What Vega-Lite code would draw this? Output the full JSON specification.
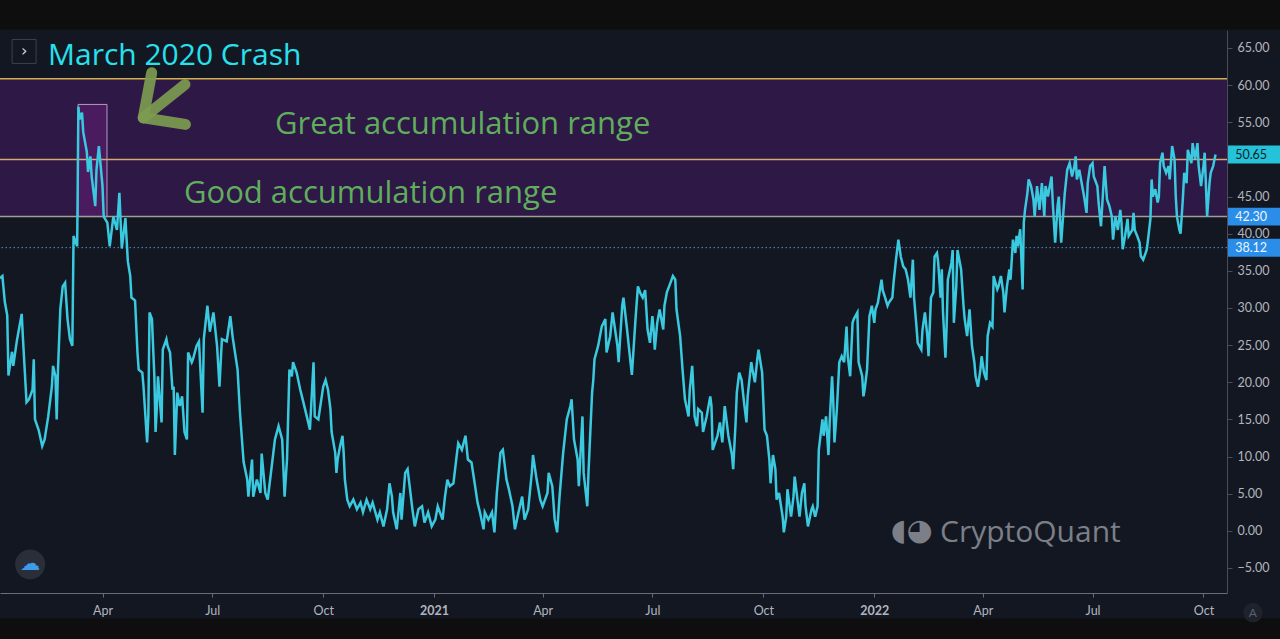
{
  "$schema": "https://vega.github.io/schema/vega-lite/v6.json",
  "width": 1227,
  "height": 563,
  "autosize": "none",
  "padding": {"left": 0, "top": 30, "right": 53, "bottom": 46},
  "background": "#131722",
  "config": {"view": {"stroke": null, "fill": "#131722"}, "font": "Lato"},
  "datasets": {
    "series": [
      {"date": "2020-01-07", "value": 34.0}, {"date": "2020-01-09", "value": 34.3}, {"date": "2020-01-11", "value": 30.8},
      {"date": "2020-01-13", "value": 29.0}, {"date": "2020-01-14", "value": 20.9}, {"date": "2020-01-17", "value": 24.1},
      {"date": "2020-01-18", "value": 22.2}, {"date": "2020-01-21", "value": 25.6}, {"date": "2020-01-22", "value": 26.5},
      {"date": "2020-01-25", "value": 29.2}, {"date": "2020-01-26", "value": 26.0}, {"date": "2020-01-29", "value": 17.3},
      {"date": "2020-01-31", "value": 17.7}, {"date": "2020-02-03", "value": 19.0}, {"date": "2020-02-04", "value": 23.1},
      {"date": "2020-02-05", "value": 15.0}, {"date": "2020-02-08", "value": 13.6}, {"date": "2020-02-11", "value": 11.4},
      {"date": "2020-02-13", "value": 12.3}, {"date": "2020-02-16", "value": 15.4}, {"date": "2020-02-19", "value": 19.4},
      {"date": "2020-02-20", "value": 22.2}, {"date": "2020-02-22", "value": 20.8}, {"date": "2020-02-23", "value": 15.0},
      {"date": "2020-02-24", "value": 21.3}, {"date": "2020-02-26", "value": 29.8}, {"date": "2020-02-28", "value": 32.9},
      {"date": "2020-03-01", "value": 33.4}, {"date": "2020-03-03", "value": 28.5}, {"date": "2020-03-05", "value": 25.8},
      {"date": "2020-03-07", "value": 24.9}, {"date": "2020-03-08", "value": 39.7}, {"date": "2020-03-11", "value": 38.3},
      {"date": "2020-03-12", "value": 57.1}, {"date": "2020-03-13", "value": 55.4}, {"date": "2020-03-15", "value": 56.3},
      {"date": "2020-03-16", "value": 53.7}, {"date": "2020-03-19", "value": 51.0}, {"date": "2020-03-20", "value": 48.3},
      {"date": "2020-03-22", "value": 50.4}, {"date": "2020-03-23", "value": 47.7}, {"date": "2020-03-26", "value": 43.7},
      {"date": "2020-03-27", "value": 48.6}, {"date": "2020-03-29", "value": 51.8}, {"date": "2020-04-01", "value": 46.4},
      {"date": "2020-04-02", "value": 42.3}, {"date": "2020-04-05", "value": 41.5}, {"date": "2020-04-07", "value": 38.3},
      {"date": "2020-04-10", "value": 42.3}, {"date": "2020-04-13", "value": 40.5}, {"date": "2020-04-15", "value": 45.5},
      {"date": "2020-04-17", "value": 38.0}, {"date": "2020-04-20", "value": 42.1}, {"date": "2020-04-22", "value": 36.3},
      {"date": "2020-04-24", "value": 34.3}, {"date": "2020-04-25", "value": 31.4}, {"date": "2020-04-28", "value": 31.0},
      {"date": "2020-04-30", "value": 24.0}, {"date": "2020-05-01", "value": 21.7}, {"date": "2020-05-04", "value": 21.3},
      {"date": "2020-05-05", "value": 19.4}, {"date": "2020-05-08", "value": 11.9}, {"date": "2020-05-09", "value": 15.4},
      {"date": "2020-05-10", "value": 29.4}, {"date": "2020-05-12", "value": 28.5}, {"date": "2020-05-14", "value": 20.8},
      {"date": "2020-05-15", "value": 13.3}, {"date": "2020-05-16", "value": 16.4}, {"date": "2020-05-17", "value": 20.8},
      {"date": "2020-05-20", "value": 14.6}, {"date": "2020-05-21", "value": 24.4}, {"date": "2020-05-24", "value": 25.8},
      {"date": "2020-05-25", "value": 24.9}, {"date": "2020-05-27", "value": 24.0}, {"date": "2020-05-29", "value": 19.0},
      {"date": "2020-05-30", "value": 19.4}, {"date": "2020-05-31", "value": 10.2}, {"date": "2020-06-02", "value": 18.6},
      {"date": "2020-06-04", "value": 16.8}, {"date": "2020-06-06", "value": 18.1}, {"date": "2020-06-08", "value": 13.3},
      {"date": "2020-06-10", "value": 12.3}, {"date": "2020-06-11", "value": 24.0}, {"date": "2020-06-14", "value": 22.7},
      {"date": "2020-06-15", "value": 23.1}, {"date": "2020-06-18", "value": 24.9}, {"date": "2020-06-20", "value": 25.5},
      {"date": "2020-06-23", "value": 15.9}, {"date": "2020-06-24", "value": 25.8}, {"date": "2020-06-27", "value": 30.3},
      {"date": "2020-06-29", "value": 26.8}, {"date": "2020-07-02", "value": 29.4}, {"date": "2020-07-05", "value": 24.9},
      {"date": "2020-07-07", "value": 19.4}, {"date": "2020-07-09", "value": 25.8}, {"date": "2020-07-13", "value": 25.5},
      {"date": "2020-07-16", "value": 28.9}, {"date": "2020-07-18", "value": 26.0}, {"date": "2020-07-22", "value": 21.7},
      {"date": "2020-07-24", "value": 15.9}, {"date": "2020-07-27", "value": 9.3}, {"date": "2020-07-30", "value": 6.9},
      {"date": "2020-07-31", "value": 4.6}, {"date": "2020-08-03", "value": 9.6}, {"date": "2020-08-04", "value": 4.6},
      {"date": "2020-08-07", "value": 6.9}, {"date": "2020-08-10", "value": 5.1}, {"date": "2020-08-11", "value": 10.4},
      {"date": "2020-08-14", "value": 5.1}, {"date": "2020-08-16", "value": 4.2}, {"date": "2020-08-20", "value": 9.6},
      {"date": "2020-08-22", "value": 12.3}, {"date": "2020-08-25", "value": 14.1}, {"date": "2020-08-28", "value": 12.3},
      {"date": "2020-08-30", "value": 4.6}, {"date": "2020-09-01", "value": 9.6}, {"date": "2020-09-03", "value": 21.7},
      {"date": "2020-09-05", "value": 20.8}, {"date": "2020-09-06", "value": 22.7}, {"date": "2020-09-09", "value": 21.3},
      {"date": "2020-09-12", "value": 19.0}, {"date": "2020-09-14", "value": 17.7}, {"date": "2020-09-18", "value": 15.0},
      {"date": "2020-09-20", "value": 13.6}, {"date": "2020-09-23", "value": 22.7}, {"date": "2020-09-24", "value": 15.4},
      {"date": "2020-09-27", "value": 15.0}, {"date": "2020-10-01", "value": 19.4}, {"date": "2020-10-03", "value": 20.3},
      {"date": "2020-10-05", "value": 19.0}, {"date": "2020-10-07", "value": 16.4}, {"date": "2020-10-08", "value": 13.3},
      {"date": "2020-10-11", "value": 10.5}, {"date": "2020-10-12", "value": 7.8}, {"date": "2020-10-13", "value": 9.6},
      {"date": "2020-10-15", "value": 11.4}, {"date": "2020-10-17", "value": 12.8}, {"date": "2020-10-18", "value": 10.5},
      {"date": "2020-10-19", "value": 6.9}, {"date": "2020-10-21", "value": 4.2}, {"date": "2020-10-23", "value": 3.3},
      {"date": "2020-10-26", "value": 4.2}, {"date": "2020-10-29", "value": 2.9}, {"date": "2020-11-01", "value": 3.8},
      {"date": "2020-11-03", "value": 2.5}, {"date": "2020-11-06", "value": 4.2}, {"date": "2020-11-09", "value": 2.9},
      {"date": "2020-11-11", "value": 3.8}, {"date": "2020-11-15", "value": 1.5}, {"date": "2020-11-17", "value": 2.5},
      {"date": "2020-11-20", "value": 0.6}, {"date": "2020-11-23", "value": 2.9}, {"date": "2020-11-25", "value": 6.4},
      {"date": "2020-11-27", "value": 4.6}, {"date": "2020-11-28", "value": 2.5}, {"date": "2020-12-01", "value": 0.2},
      {"date": "2020-12-04", "value": 5.1}, {"date": "2020-12-05", "value": 1.5}, {"date": "2020-12-08", "value": 7.8},
      {"date": "2020-12-10", "value": 8.3}, {"date": "2020-12-14", "value": 2.9}, {"date": "2020-12-16", "value": 0.6},
      {"date": "2020-12-19", "value": 2.9}, {"date": "2020-12-22", "value": 3.3}, {"date": "2020-12-24", "value": 1.1},
      {"date": "2020-12-27", "value": 2.5}, {"date": "2020-12-30", "value": 0.6}, {"date": "2021-01-02", "value": 1.5},
      {"date": "2021-01-04", "value": 3.3}, {"date": "2021-01-08", "value": 1.5}, {"date": "2021-01-10", "value": 4.6},
      {"date": "2021-01-12", "value": 6.9}, {"date": "2021-01-14", "value": 6.0}, {"date": "2021-01-17", "value": 6.4},
      {"date": "2021-01-20", "value": 10.5}, {"date": "2021-01-21", "value": 11.8}, {"date": "2021-01-24", "value": 10.9},
      {"date": "2021-01-27", "value": 12.8}, {"date": "2021-01-29", "value": 9.6}, {"date": "2021-02-01", "value": 9.2},
      {"date": "2021-02-04", "value": 6.0}, {"date": "2021-02-06", "value": 3.8}, {"date": "2021-02-08", "value": 2.5},
      {"date": "2021-02-11", "value": 0.2}, {"date": "2021-02-12", "value": 2.5}, {"date": "2021-02-15", "value": 1.5},
      {"date": "2021-02-18", "value": 2.5}, {"date": "2021-02-20", "value": -0.2}, {"date": "2021-02-22", "value": 5.1},
      {"date": "2021-02-25", "value": 10.5}, {"date": "2021-02-27", "value": 10.9}, {"date": "2021-03-02", "value": 6.9},
      {"date": "2021-03-04", "value": 5.6}, {"date": "2021-03-07", "value": 3.3}, {"date": "2021-03-09", "value": 0.2},
      {"date": "2021-03-12", "value": 2.5}, {"date": "2021-03-15", "value": 4.6}, {"date": "2021-03-17", "value": 1.5},
      {"date": "2021-03-20", "value": 2.9}, {"date": "2021-03-23", "value": 7.8}, {"date": "2021-03-24", "value": 10.2},
      {"date": "2021-03-27", "value": 6.9}, {"date": "2021-03-30", "value": 4.2}, {"date": "2021-04-01", "value": 3.3},
      {"date": "2021-04-05", "value": 5.1}, {"date": "2021-04-06", "value": 7.8}, {"date": "2021-04-09", "value": 6.0},
      {"date": "2021-04-11", "value": 1.5}, {"date": "2021-04-13", "value": -0.2}, {"date": "2021-04-15", "value": 4.6},
      {"date": "2021-04-18", "value": 10.5}, {"date": "2021-04-21", "value": 15.0}, {"date": "2021-04-24", "value": 16.8},
      {"date": "2021-04-25", "value": 17.7}, {"date": "2021-04-27", "value": 12.3}, {"date": "2021-04-30", "value": 9.6},
      {"date": "2021-05-01", "value": 6.0}, {"date": "2021-05-04", "value": 15.4}, {"date": "2021-05-05", "value": 7.8},
      {"date": "2021-05-08", "value": 3.3}, {"date": "2021-05-09", "value": 7.8}, {"date": "2021-05-10", "value": 11.4},
      {"date": "2021-05-12", "value": 18.6}, {"date": "2021-05-13", "value": 20.3}, {"date": "2021-05-14", "value": 23.1},
      {"date": "2021-05-17", "value": 24.9}, {"date": "2021-05-20", "value": 27.5}, {"date": "2021-05-23", "value": 28.5},
      {"date": "2021-05-24", "value": 24.0}, {"date": "2021-05-27", "value": 26.2}, {"date": "2021-05-29", "value": 29.4},
      {"date": "2021-06-02", "value": 24.9}, {"date": "2021-06-03", "value": 22.7}, {"date": "2021-06-06", "value": 30.3},
      {"date": "2021-06-07", "value": 31.4}, {"date": "2021-06-10", "value": 27.1}, {"date": "2021-06-12", "value": 24.0},
      {"date": "2021-06-14", "value": 21.0}, {"date": "2021-06-17", "value": 28.5}, {"date": "2021-06-19", "value": 32.9},
      {"date": "2021-06-21", "value": 32.0}, {"date": "2021-06-23", "value": 31.4}, {"date": "2021-06-25", "value": 32.4},
      {"date": "2021-06-27", "value": 27.1}, {"date": "2021-06-29", "value": 25.3}, {"date": "2021-07-01", "value": 28.9},
      {"date": "2021-07-02", "value": 27.1}, {"date": "2021-07-03", "value": 24.4}, {"date": "2021-07-05", "value": 28.0},
      {"date": "2021-07-07", "value": 29.8}, {"date": "2021-07-09", "value": 28.0}, {"date": "2021-07-10", "value": 27.1},
      {"date": "2021-07-11", "value": 30.3}, {"date": "2021-07-13", "value": 32.1}, {"date": "2021-07-16", "value": 33.4},
      {"date": "2021-07-18", "value": 34.3}, {"date": "2021-07-20", "value": 33.8}, {"date": "2021-07-21", "value": 29.8},
      {"date": "2021-07-24", "value": 26.2}, {"date": "2021-07-26", "value": 21.7}, {"date": "2021-07-28", "value": 17.7},
      {"date": "2021-07-31", "value": 15.4}, {"date": "2021-08-01", "value": 19.0}, {"date": "2021-08-03", "value": 22.2},
      {"date": "2021-08-04", "value": 19.0}, {"date": "2021-08-05", "value": 15.4}, {"date": "2021-08-07", "value": 14.1},
      {"date": "2021-08-08", "value": 16.4}, {"date": "2021-08-11", "value": 15.9}, {"date": "2021-08-12", "value": 13.3},
      {"date": "2021-08-15", "value": 15.4}, {"date": "2021-08-18", "value": 18.1}, {"date": "2021-08-19", "value": 16.8},
      {"date": "2021-08-20", "value": 10.9}, {"date": "2021-08-24", "value": 12.8}, {"date": "2021-08-26", "value": 14.6},
      {"date": "2021-08-28", "value": 11.9}, {"date": "2021-08-30", "value": 16.8}, {"date": "2021-09-02", "value": 12.8},
      {"date": "2021-09-05", "value": 10.2}, {"date": "2021-09-06", "value": 8.3}, {"date": "2021-09-08", "value": 14.6},
      {"date": "2021-09-09", "value": 18.6}, {"date": "2021-09-11", "value": 21.3}, {"date": "2021-09-13", "value": 20.3},
      {"date": "2021-09-15", "value": 17.3}, {"date": "2021-09-17", "value": 14.6}, {"date": "2021-09-18", "value": 18.1},
      {"date": "2021-09-21", "value": 22.7}, {"date": "2021-09-22", "value": 21.7}, {"date": "2021-09-24", "value": 20.0},
      {"date": "2021-09-26", "value": 23.1}, {"date": "2021-09-27", "value": 24.4}, {"date": "2021-09-30", "value": 21.3},
      {"date": "2021-10-02", "value": 13.6}, {"date": "2021-10-04", "value": 12.8}, {"date": "2021-10-06", "value": 9.6},
      {"date": "2021-10-07", "value": 6.4}, {"date": "2021-10-09", "value": 10.2}, {"date": "2021-10-11", "value": 8.3},
      {"date": "2021-10-12", "value": 4.2}, {"date": "2021-10-14", "value": 5.1}, {"date": "2021-10-17", "value": 1.9},
      {"date": "2021-10-18", "value": -0.2}, {"date": "2021-10-20", "value": 1.9}, {"date": "2021-10-21", "value": 5.6},
      {"date": "2021-10-24", "value": 1.9}, {"date": "2021-10-26", "value": 4.6}, {"date": "2021-10-27", "value": 7.3},
      {"date": "2021-10-29", "value": 4.6}, {"date": "2021-10-31", "value": 1.9}, {"date": "2021-11-02", "value": 5.1},
      {"date": "2021-11-04", "value": 6.4}, {"date": "2021-11-05", "value": 3.3}, {"date": "2021-11-07", "value": 0.6},
      {"date": "2021-11-10", "value": 2.9}, {"date": "2021-11-11", "value": 3.3}, {"date": "2021-11-13", "value": 1.9},
      {"date": "2021-11-15", "value": 3.3}, {"date": "2021-11-16", "value": 10.9}, {"date": "2021-11-19", "value": 15.0},
      {"date": "2021-11-20", "value": 12.8}, {"date": "2021-11-22", "value": 15.4}, {"date": "2021-11-24", "value": 10.2},
      {"date": "2021-11-25", "value": 14.6}, {"date": "2021-11-27", "value": 20.8}, {"date": "2021-11-28", "value": 17.3},
      {"date": "2021-11-29", "value": 11.9}, {"date": "2021-12-01", "value": 16.4}, {"date": "2021-12-03", "value": 22.7},
      {"date": "2021-12-05", "value": 23.5}, {"date": "2021-12-07", "value": 22.7}, {"date": "2021-12-09", "value": 27.5},
      {"date": "2021-12-10", "value": 23.5}, {"date": "2021-12-12", "value": 20.8}, {"date": "2021-12-14", "value": 28.0},
      {"date": "2021-12-15", "value": 28.5}, {"date": "2021-12-18", "value": 29.4}, {"date": "2021-12-19", "value": 22.7},
      {"date": "2021-12-22", "value": 20.8}, {"date": "2021-12-23", "value": 18.1}, {"date": "2021-12-24", "value": 19.0},
      {"date": "2021-12-26", "value": 21.7}, {"date": "2021-12-28", "value": 28.9}, {"date": "2021-12-30", "value": 30.3},
      {"date": "2022-01-01", "value": 28.0}, {"date": "2022-01-02", "value": 29.8}, {"date": "2022-01-04", "value": 30.7},
      {"date": "2022-01-07", "value": 33.8}, {"date": "2022-01-08", "value": 32.4}, {"date": "2022-01-10", "value": 31.4},
      {"date": "2022-01-12", "value": 30.3}, {"date": "2022-01-13", "value": 30.7}, {"date": "2022-01-16", "value": 31.4},
      {"date": "2022-01-17", "value": 33.4}, {"date": "2022-01-19", "value": 36.5}, {"date": "2022-01-21", "value": 39.2},
      {"date": "2022-01-23", "value": 36.9}, {"date": "2022-01-25", "value": 35.6}, {"date": "2022-01-27", "value": 35.2},
      {"date": "2022-01-29", "value": 33.8}, {"date": "2022-01-31", "value": 31.4}, {"date": "2022-02-02", "value": 36.5},
      {"date": "2022-02-03", "value": 31.4}, {"date": "2022-02-05", "value": 27.5}, {"date": "2022-02-06", "value": 25.3},
      {"date": "2022-02-09", "value": 24.4}, {"date": "2022-02-10", "value": 27.1}, {"date": "2022-02-12", "value": 29.4},
      {"date": "2022-02-14", "value": 26.2}, {"date": "2022-02-15", "value": 23.5}, {"date": "2022-02-17", "value": 31.4},
      {"date": "2022-02-19", "value": 32.1}, {"date": "2022-02-20", "value": 36.9}, {"date": "2022-02-22", "value": 37.4},
      {"date": "2022-02-23", "value": 36.1}, {"date": "2022-02-25", "value": 31.4}, {"date": "2022-02-26", "value": 35.2},
      {"date": "2022-02-27", "value": 29.4}, {"date": "2022-03-01", "value": 23.3}, {"date": "2022-03-02", "value": 27.5},
      {"date": "2022-03-03", "value": 33.8}, {"date": "2022-03-06", "value": 36.1}, {"date": "2022-03-07", "value": 37.8},
      {"date": "2022-03-08", "value": 28.0}, {"date": "2022-03-10", "value": 32.9}, {"date": "2022-03-11", "value": 37.8},
      {"date": "2022-03-14", "value": 35.2}, {"date": "2022-03-16", "value": 30.3}, {"date": "2022-03-17", "value": 28.5},
      {"date": "2022-03-19", "value": 26.2}, {"date": "2022-03-21", "value": 29.8}, {"date": "2022-03-23", "value": 24.9},
      {"date": "2022-03-25", "value": 22.7}, {"date": "2022-03-26", "value": 20.8}, {"date": "2022-03-28", "value": 19.4},
      {"date": "2022-03-30", "value": 21.7}, {"date": "2022-03-31", "value": 23.5}, {"date": "2022-04-02", "value": 21.3},
      {"date": "2022-04-04", "value": 20.3}, {"date": "2022-04-05", "value": 26.2}, {"date": "2022-04-07", "value": 28.0},
      {"date": "2022-04-09", "value": 27.5}, {"date": "2022-04-10", "value": 34.3}, {"date": "2022-04-13", "value": 32.5},
      {"date": "2022-04-14", "value": 32.9}, {"date": "2022-04-16", "value": 34.3}, {"date": "2022-04-18", "value": 32.1},
      {"date": "2022-04-19", "value": 29.4}, {"date": "2022-04-21", "value": 32.9}, {"date": "2022-04-23", "value": 35.2},
      {"date": "2022-04-24", "value": 33.8}, {"date": "2022-04-26", "value": 39.2}, {"date": "2022-04-28", "value": 37.4},
      {"date": "2022-04-29", "value": 39.7}, {"date": "2022-04-30", "value": 38.3}, {"date": "2022-05-02", "value": 40.6},
      {"date": "2022-05-04", "value": 32.5}, {"date": "2022-05-05", "value": 41.5}, {"date": "2022-05-06", "value": 43.2},
      {"date": "2022-05-08", "value": 45.5}, {"date": "2022-05-09", "value": 47.3}, {"date": "2022-05-11", "value": 46.4},
      {"date": "2022-05-13", "value": 44.6}, {"date": "2022-05-14", "value": 42.3}, {"date": "2022-05-16", "value": 46.4},
      {"date": "2022-05-18", "value": 43.2}, {"date": "2022-05-20", "value": 46.8}, {"date": "2022-05-22", "value": 42.3},
      {"date": "2022-05-23", "value": 46.4}, {"date": "2022-05-25", "value": 45.0}, {"date": "2022-05-28", "value": 47.7},
      {"date": "2022-05-29", "value": 44.2}, {"date": "2022-05-31", "value": 38.8}, {"date": "2022-06-02", "value": 43.7},
      {"date": "2022-06-03", "value": 45.0}, {"date": "2022-06-05", "value": 38.8}, {"date": "2022-06-07", "value": 43.3},
      {"date": "2022-06-08", "value": 45.5}, {"date": "2022-06-10", "value": 48.6}, {"date": "2022-06-12", "value": 49.5},
      {"date": "2022-06-14", "value": 47.7}, {"date": "2022-06-16", "value": 49.1}, {"date": "2022-06-17", "value": 50.4},
      {"date": "2022-06-18", "value": 47.3}, {"date": "2022-06-20", "value": 48.6}, {"date": "2022-06-22", "value": 46.8},
      {"date": "2022-06-24", "value": 45.0}, {"date": "2022-06-26", "value": 42.8}, {"date": "2022-06-27", "value": 46.8},
      {"date": "2022-06-29", "value": 49.1}, {"date": "2022-07-01", "value": 49.5}, {"date": "2022-07-02", "value": 47.7},
      {"date": "2022-07-05", "value": 46.4}, {"date": "2022-07-06", "value": 44.2}, {"date": "2022-07-08", "value": 41.0},
      {"date": "2022-07-10", "value": 46.4}, {"date": "2022-07-11", "value": 49.1}, {"date": "2022-07-13", "value": 44.6},
      {"date": "2022-07-15", "value": 43.7}, {"date": "2022-07-17", "value": 42.3}, {"date": "2022-07-18", "value": 39.2},
      {"date": "2022-07-20", "value": 42.3}, {"date": "2022-07-22", "value": 40.5}, {"date": "2022-07-24", "value": 43.2},
      {"date": "2022-07-25", "value": 41.5}, {"date": "2022-07-26", "value": 37.9}, {"date": "2022-07-28", "value": 39.7},
      {"date": "2022-07-30", "value": 42.0}, {"date": "2022-07-31", "value": 39.7}, {"date": "2022-08-03", "value": 40.5},
      {"date": "2022-08-04", "value": 42.8}, {"date": "2022-08-05", "value": 40.5}, {"date": "2022-08-07", "value": 39.7},
      {"date": "2022-08-09", "value": 38.8}, {"date": "2022-08-10", "value": 37.0}, {"date": "2022-08-12", "value": 36.5},
      {"date": "2022-08-14", "value": 37.4}, {"date": "2022-08-15", "value": 37.9}, {"date": "2022-08-16", "value": 39.2},
      {"date": "2022-08-18", "value": 42.0}, {"date": "2022-08-19", "value": 47.3}, {"date": "2022-08-20", "value": 45.0},
      {"date": "2022-08-22", "value": 46.0}, {"date": "2022-08-24", "value": 44.2}, {"date": "2022-08-25", "value": 45.0},
      {"date": "2022-08-26", "value": 49.5}, {"date": "2022-08-28", "value": 50.9}, {"date": "2022-08-29", "value": 49.1},
      {"date": "2022-08-31", "value": 48.2}, {"date": "2022-09-02", "value": 49.1}, {"date": "2022-09-03", "value": 47.3},
      {"date": "2022-09-05", "value": 51.8}, {"date": "2022-09-07", "value": 50.0}, {"date": "2022-09-08", "value": 45.0},
      {"date": "2022-09-09", "value": 42.3}, {"date": "2022-09-11", "value": 40.5}, {"date": "2022-09-12", "value": 40.0},
      {"date": "2022-09-14", "value": 45.0}, {"date": "2022-09-15", "value": 48.2}, {"date": "2022-09-17", "value": 46.8},
      {"date": "2022-09-18", "value": 51.3}, {"date": "2022-09-21", "value": 49.5}, {"date": "2022-09-22", "value": 52.2},
      {"date": "2022-09-24", "value": 50.0}, {"date": "2022-09-26", "value": 52.2}, {"date": "2022-09-27", "value": 49.1},
      {"date": "2022-09-29", "value": 46.4}, {"date": "2022-10-01", "value": 49.1}, {"date": "2022-10-02", "value": 50.9},
      {"date": "2022-10-04", "value": 42.3}, {"date": "2022-10-06", "value": 46.8}, {"date": "2022-10-07", "value": 48.2},
      {"date": "2022-10-09", "value": 49.1}, {"date": "2022-10-11", "value": 50.65}
    ]
  },
  "layer": [
    {
      "data": {"values": [{}]},
      "mark": {"type": "rect", "color": "#0e0e0e"},
      "encoding": {
        "x": {"datum": {"year": 2019, "month": 12, "date": 1, "utc": true}, "type": "temporal"},
        "x2": {"datum": {"year": 2022, "month": 12, "date": 31, "utc": true}},
        "y": {"datum": 67.5, "type": "quantitative"},
        "y2": {"datum": 73}
      }
    },
    {
      "data": {"values": [{}]},
      "mark": {"type": "rect", "color": "#0e0e0e"},
      "encoding": {
        "x": {"datum": {"year": 2019, "month": 12, "date": 1, "utc": true}, "type": "temporal"},
        "x2": {"datum": {"year": 2022, "month": 12, "date": 31, "utc": true}},
        "y": {"datum": -11.8, "type": "quantitative"},
        "y2": {"datum": -16}
      }
    },
    {
      "data": {"values": [{}]},
      "mark": {"type": "rect", "color": "#2d1846"},
      "encoding": {
        "y": {"datum": 60.85, "type": "quantitative"},
        "y2": {"datum": 42.3}
      }
    },
    {
      "data": {"values": [{}]},
      "mark": {"type": "rect", "fill": "#4a1b5e", "stroke": "#b49cc0", "strokeWidth": 1},
      "encoding": {
        "x": {"datum": {"year": 2020, "month": 3, "date": 11, "hours": 17, "utc": true}, "type": "temporal"},
        "x2": {"datum": {"year": 2020, "month": 4, "date": 4, "hours": 17, "utc": true}},
        "y": {"datum": 57.4, "type": "quantitative"},
        "y2": {"datum": 42.3}
      }
    },
    {
      "data": {"values": [{}]},
      "mark": {"type": "rule", "color": "#d4b04c", "strokeWidth": 1.5},
      "encoding": {"y": {"datum": 60.85, "type": "quantitative"}}
    },
    {
      "data": {"values": [{}]},
      "mark": {"type": "rule", "color": "#d6a873", "strokeWidth": 1.5},
      "encoding": {"y": {"datum": 50.0, "type": "quantitative"}}
    },
    {
      "data": {"values": [{}]},
      "mark": {"type": "rule", "color": "#9e9f97", "strokeWidth": 1.5},
      "encoding": {"y": {"datum": 42.3, "type": "quantitative"}}
    },
    {
      "data": {"values": [{}]},
      "mark": {"type": "rule", "color": "#4f8fd0", "strokeWidth": 1, "strokeDash": [1.5, 2.5]},
      "encoding": {"y": {"datum": 38.12, "type": "quantitative"}}
    },
    {
      "data": {"name": "series"},
      "mark": {"type": "line", "color": "#3ac9df", "strokeWidth": 2.5},
      "encoding": {
        "x": {
          "field": "date",
          "type": "temporal",
          "scale": {
            "type": "utc",
            "domain": [
              {"year": 2020, "month": 1, "date": 7, "utc": true},
              {"year": 2022, "month": 10, "date": 20, "hours": 12, "utc": true}
            ]
          },
          "axis": {
            "title": null,
            "grid": false,
            "domainColor": "#6b6e78",
            "tickColor": "#6b6e78",
            "tickSize": 4,
            "labelColor": "#b2b5be",
            "labelFont": "Lato",
            "labelFontSize": 12.5,
            "labelPadding": 7,
            "labelFlush": false,
            "labelOverlap": false,
            "tickCount": {"interval": "month", "step": 3},
            "labelExpr": "utcmonth(datum.value) == 0 ? utcFormat(datum.value, '%Y') : utcFormat(datum.value, '%b')",
            "labelFontWeight": {"condition": {"test": "utcmonth(datum.value) == 0", "value": "bold"}, "value": "normal"}
          }
        },
        "y": {
          "field": "value",
          "type": "quantitative",
          "scale": {"domain": [-8.37, 67.42], "nice": false, "zero": false},
          "axis": {
            "title": null,
            "orient": "right",
            "grid": false,
            "values": [-5, 0, 5, 10, 15, 20, 25, 30, 35, 40, 45, 55, 60, 65],
            "format": ".2f",
            "domainColor": "#4a4d57",
            "tickColor": "#4a4d57",
            "tickSize": 5,
            "labelColor": "#b2b5be",
            "labelFont": "Lato",
            "labelFontSize": 12.5,
            "labelPadding": 5,
            "labelFlush": false,
            "labelOverlap": false
          }
        }
      }
    },
    {
      "data": {"values": [{}]},
      "mark": {"type": "rule", "color": "#7d9b50", "strokeWidth": 11, "strokeCap": "round", "opacity": 0.92},
      "encoding": {
        "x": {"datum": {"year": 2020, "month": 5, "date": 11, "hours": 19, "utc": true}, "type": "temporal"},
        "x2": {"datum": {"year": 2020, "month": 5, "date": 4, "hours": 19, "utc": true}},
        "y": {"datum": 61.67, "type": "quantitative"},
        "y2": {"datum": 55.61}
      }
    },
    {
      "data": {"values": [{}]},
      "mark": {"type": "rule", "color": "#7d9b50", "strokeWidth": 11, "strokeCap": "round", "opacity": 0.92},
      "encoding": {
        "x": {"datum": {"year": 2020, "month": 5, "date": 4, "hours": 19, "utc": true}, "type": "temporal"},
        "x2": {"datum": {"year": 2020, "month": 6, "date": 8, "hours": 19, "utc": true}},
        "y": {"datum": 55.61, "type": "quantitative"},
        "y2": {"datum": 54.71}
      }
    },
    {
      "data": {"values": [{}]},
      "mark": {"type": "rule", "color": "#7d9b50", "strokeWidth": 11, "strokeCap": "round", "opacity": 0.92},
      "encoding": {
        "x": {"datum": {"year": 2020, "month": 5, "date": 4, "hours": 19, "utc": true}, "type": "temporal"},
        "x2": {"datum": {"year": 2020, "month": 6, "date": 8, "hours": 10, "utc": true}},
        "y": {"datum": 55.61, "type": "quantitative"},
        "y2": {"datum": 60.09}
      }
    },
    {
      "data": {"values": [{}]},
      "mark": {"type": "text", "text": "March 2020 Crash", "font": "Open Sans", "fontSize": 30, "color": "#27e1ee", "align": "left", "baseline": "alphabetic"},
      "encoding": {
        "x": {"datum": {"year": 2020, "month": 2, "date": 15, "hours": 19, "utc": true}, "type": "temporal"},
        "y": {"datum": 62.65, "type": "quantitative"}
      }
    },
    {
      "data": {"values": [{}]},
      "mark": {"type": "text", "text": "Great accumulation range", "font": "Open Sans", "fontSize": 31, "color": "#60ad5c", "align": "left", "baseline": "alphabetic"},
      "encoding": {
        "x": {"datum": {"year": 2020, "month": 8, "date": 22, "utc": true}, "type": "temporal"},
        "y": {"datum": 53.46, "type": "quantitative"}
      }
    },
    {
      "data": {"values": [{}]},
      "mark": {"type": "text", "text": "Good accumulation range", "font": "Open Sans", "fontSize": 31, "color": "#60ad5c", "align": "left", "baseline": "alphabetic"},
      "encoding": {
        "x": {"datum": {"year": 2020, "month": 6, "date": 7, "hours": 14, "utc": true}, "type": "temporal"},
        "y": {"datum": 44.17, "type": "quantitative"}
      }
    },
    {
      "data": {"values": [{}]},
      "mark": {"type": "text", "text": "CryptoQuant", "font": "Open Sans", "fontSize": 30, "color": "#7c7f87", "align": "left", "baseline": "alphabetic"},
      "encoding": {
        "x": {"datum": {"year": 2022, "month": 2, "date": 24, "hours": 12, "utc": true}, "type": "temporal"},
        "y": {"datum": -1.56, "type": "quantitative"}
      }
    },
    {
      "data": {"values": [{}]},
      "mark": {"type": "text", "text": "◖◕", "font": "DejaVu Sans", "fontSize": 30, "color": "#7c7f87", "align": "center", "baseline": "middle"},
      "encoding": {
        "x": {"datum": {"year": 2022, "month": 2, "date": 1, "utc": true}, "type": "temporal"},
        "y": {"datum": 0.0, "type": "quantitative"}
      }
    },
    {
      "data": {"values": [{}]},
      "mark": {"type": "point", "shape": "square", "size": 576, "filled": false, "stroke": "#3d404a", "strokeWidth": 1, "opacity": 1},
      "encoding": {
        "x": {"datum": {"year": 2020, "month": 1, "date": 27, "utc": true}, "type": "temporal"},
        "y": {"datum": 64.53, "type": "quantitative"}
      }
    },
    {
      "data": {"values": [{}]},
      "mark": {"type": "text", "text": "›", "font": "DejaVu Sans", "fontSize": 16, "color": "#d1d4dc", "align": "center", "baseline": "middle"},
      "encoding": {
        "x": {"datum": {"year": 2020, "month": 1, "date": 27, "utc": true}, "type": "temporal"},
        "y": {"datum": 64.6, "type": "quantitative"}
      }
    },
    {
      "data": {"values": [{}]},
      "mark": {"type": "point", "shape": "circle", "size": 900, "filled": true, "color": "#2a2e39", "opacity": 1},
      "encoding": {
        "x": {"datum": {"year": 2020, "month": 2, "date": 1, "utc": true}, "type": "temporal"},
        "y": {"datum": -4.52, "type": "quantitative"}
      }
    },
    {
      "data": {"values": [{}]},
      "mark": {"type": "text", "text": "☁", "font": "DejaVu Sans", "fontSize": 20, "color": "#3d9be9", "align": "center", "baseline": "middle"},
      "encoding": {
        "x": {"datum": {"year": 2020, "month": 2, "date": 1, "utc": true}, "type": "temporal"},
        "y": {"datum": -4.52, "type": "quantitative"}
      }
    },
    {
      "data": {"values": [{"label": "50.65", "top": 51.88, "bottom": 49.46, "mid": 50.65, "kind": "last"}, {"label": "42.30", "top": 43.5, "bottom": 41.1, "mid": 42.3, "kind": "level"}, {"label": "38.12", "top": 39.33, "bottom": 36.91, "mid": 38.12, "kind": "level"}]},
      "layer": [
        {
          "mark": {"type": "rect"},
          "encoding": {
            "x": {"datum": {"year": 2022, "month": 10, "date": 21, "hours": 8, "utc": true}, "type": "temporal"},
            "x2": {"datum": {"year": 2022, "month": 12, "date": 5, "utc": true}},
            "y": {"field": "top", "type": "quantitative"},
            "y2": {"field": "bottom"},
            "color": {"condition": {"test": "datum.kind == 'last'", "value": "#24c3da"}, "value": "#2a8de8"}
          }
        },
        {
          "mark": {"type": "text", "font": "Lato", "fontSize": 12.5, "align": "center", "baseline": "middle"},
          "encoding": {
            "x": {"datum": {"year": 2022, "month": 11, "date": 9, "hours": 12, "utc": true}, "type": "temporal"},
            "y": {"field": "mid", "type": "quantitative"},
            "text": {"field": "label"},
            "color": {"condition": {"test": "datum.kind == 'last'", "value": "#0d1f28"}, "value": "#eef4ff"}
          }
        }
      ]
    },
    {
      "data": {"values": [{}]},
      "mark": {"type": "point", "shape": "circle", "size": 380, "filled": true, "color": "#1e222d", "opacity": 1},
      "encoding": {
        "x": {"datum": {"year": 2022, "month": 11, "date": 11, "utc": true}, "type": "temporal"},
        "y": {"datum": -11.0, "type": "quantitative"}
      }
    },
    {
      "data": {"values": [{}]},
      "mark": {"type": "text", "text": "A", "font": "Lato", "fontSize": 12, "color": "#5d606b", "align": "center", "baseline": "middle"},
      "encoding": {
        "x": {"datum": {"year": 2022, "month": 11, "date": 11, "utc": true}, "type": "temporal"},
        "y": {"datum": -11.0, "type": "quantitative"}
      }
    }
  ]
}
